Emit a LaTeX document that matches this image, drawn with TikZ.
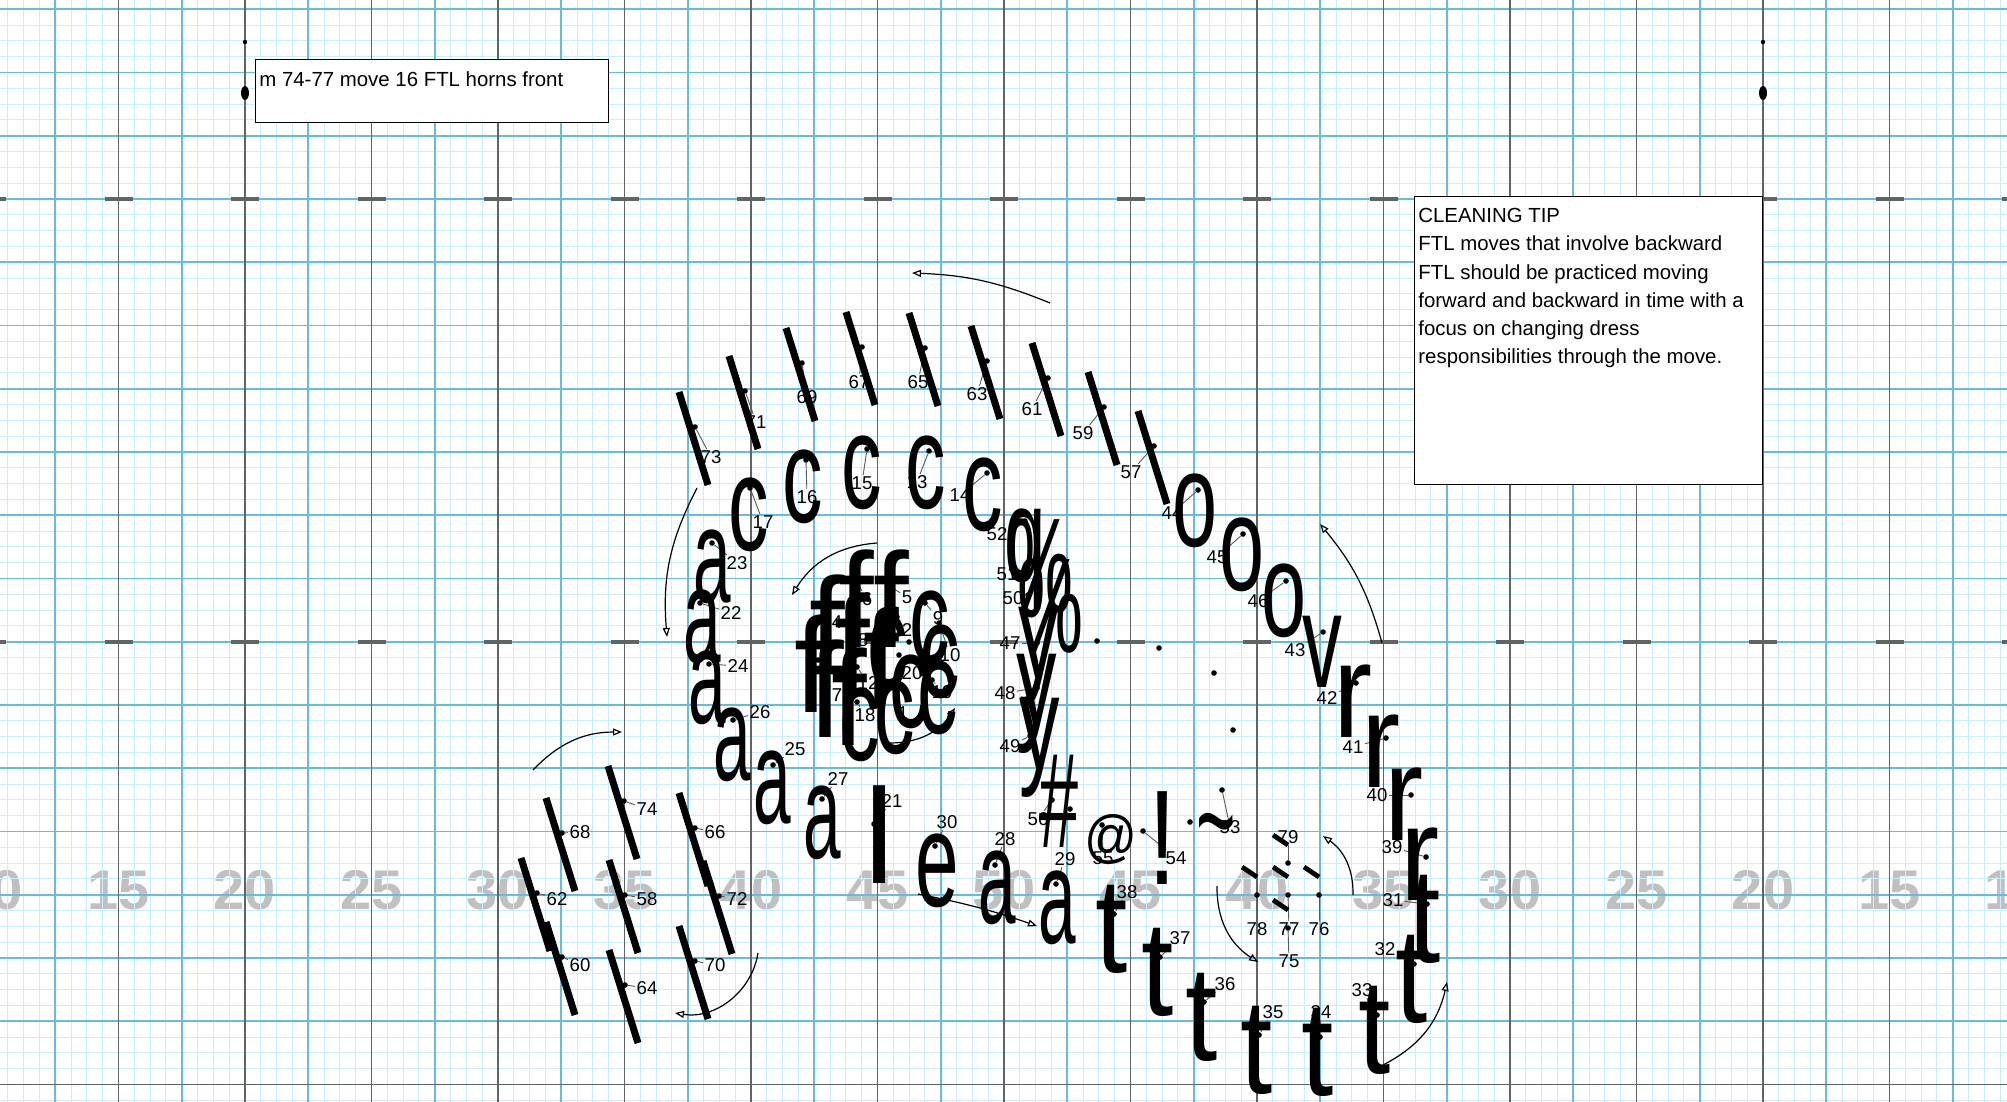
\documentclass[tikz,border=0pt]{standalone}
\usepackage{fontspec}
\setmainfont{Liberation Sans}
\usetikzlibrary{arrows.meta,shapes.geometric,calc}
\definecolor{finecyan}{RGB}{198,241,250}
\definecolor{midcyan}{RGB}{98,190,218}
\definecolor{yardgray}{RGB}{95,100,100}
\definecolor{numgray}{RGB}{192,192,192}
% squeeze a drill symbol sideways
\newcommand\sq[2][0.58]{\scalebox{#1}[1]{#2}}
\tikzset{
 fineline/.style={finecyan,line width=0.5pt},
 midline/.style={midcyan,line width=0.8pt},
 yardline/.style={yardgray,line width=0.8pt},
 hashmark/.style={yardgray,line width=2pt},
 yardnum/.style={numgray,inner sep=0,font=\fontsize{28}{28}\bfseries\selectfont},
 glyph/.style={inner sep=0,anchor=base,font=\fontsize{67.5}{67.5}\selectfont},
 spot/.style={circle,fill=black,inner sep=0,minimum size=2.8pt},
 num/.style={inner sep=0.6pt,font=\fontsize{9.3}{10}\selectfont},
 leader/.style={black!65,line width=0.45pt},
 slash/.style={line width=3.5pt},
 tick/.style={line width=2.4pt},
 move/.style={-{Triangle[open,length=4.5pt,width=3.5pt]},line width=0.6pt},
 notebox/.style={draw,fill=white,line width=0.6pt,inner sep=0,anchor=north west},
 notetext/.style={inner sep=0,align=left,font=\fontsize{10.2}{14.1}\selectfont}
}
% marcher data: id/dot x/dot y/label x/label y
\def\slashrows{%
73/695/427/711/457,71/745/391/756/422,69/802/363/807/397,%
67/862/347/859/382,65/925/348/918/382,63/987/361/977/394,%
61/1048/378/1032/409,59/1104/407/1083/433,57/1154/446/1131/472,%
74/624/801/647/809,68/562/833/580/832,66/695/828/715/832,%
62/537/893/557/899,58/625/895/647/899,72/719/896/737/899,%
60/562/957/580/965,64/625/985/647/988,70/695/961/715/965}
% id/dot x/dot y/label x/label y/symbol/symbol x/baseline/squeeze
\def\letterrows{%
17/750/488/763/522/c/749/550/0.6,16/806/460/807/497/c/803/522/0.6,%
15/867/449/862/483/c/862/508/0.6,13/929/451/917/482/c/926/508/0.6,%
14/987/473/960/495/c/983/530/0.6,52/1025/521/997/534/q/1025/581/0.55,%
23/712/543/737/563/a/712/602/0.5,22/700/603/731/613/a/702/662/0.5,%
24/709/664/738/666/a/707/723/0.5,26/733/720/760/712/a/732/780/0.5,%
25/773/765/795/749/a/772/823/0.5,27/822/799/838/779/a/822/858/0.5,%
21/874/824/892/801/l/879/883/1,30/935/846/947/822/e/937/906/0.58,%
28/995/865/1005/839/a/997/923/0.5,29/1056/884/1065/859/a/1057/943/0.5,%
44/1198/490/1172/513/o/1195/546/0.6,45/1243/534/1217/557/o/1242/590/0.6,%
46/1286/581/1258/601/o/1284/636/0.6,43/1323/632/1295/650/v/1322/687/0.59,%
42/1356/683/1327/698/r/1353/737/0.87,41/1386/738/1353/747/r/1381/787/0.87,%
40/1411/795/1377/795/r/1404/840/0.87,39/1426/857/1392/847/r/1420/900/0.87,%
38/1114/914/1127/892/t/1112/972/0.86,37/1160/957/1180/938/t/1158/1015/0.86,%
36/1204/1002/1225/984/t/1202/1060/0.86,35/1259/1035/1273/1012/t/1257/1093/0.86,%
34/1320/1037/1321/1012/t/1318/1095/0.86,33/1377/1015/1362/990/t/1375/1073/0.86,%
32/1414/964/1385/949/t/1412/1022/0.86,31/1427/904/1393/900/t/1425/962/0.86,%
6/857/583/867/599/f/856/647/0.95,5/878/579/907/597/f/891/647/0.95,%
4/823/604/837/622/f/827/672/0.95,8/856/628/863/640/f/852/690/0.95,%
2/897/617/907/630/f/881/704/0.95,7/826/681/837/695/f/826/737/0.95,%
12/857/667/868/683/f/849/745/0.95,9/925/603/938/618/c/930/663/0.6,%
10/939/623/950/655/c/940/697/0.6,19/932/680/942/692/c/938/733/0.6,%
1/896/702/903/713/c/895/753/0.6,18/857/702/865/715/c/860/760/0.6,%
20/899/655/912/673/c/910/727/0.6,%
51/1025/575/1007/574/\%/1040/612/0.55,50/1028/595/1013/598/\%/1050/652/0.55,%
47/1037/643/1010/643/y/1039/678/0.6,48/1037/688/1005/693/y/1037/725/0.6,%
49/1030/736/1010/746/y/1040/769/0.6,56/1052/800/1038/819/\#/1059/847/0.52,%
54/1143/831/1176/858/!/1163/884/0.75}
\def\tickrows{%
79/1288/863/1288/837,78/1257/895/1257/929,77/1288/895/1289/929,%
76/1319/895/1319/929,75/1288/928/1289/961}

\begin{document}
\begin{tikzpicture}[x=0.5pt,y=-0.5pt]
\useasboundingbox (0,0) rectangle (2007,1102);
\clip (0,0) rectangle (2007,1102);
\fill[white] (0,0) rectangle (2007,1102);
% yard numbers
\foreach \k/\yd [count=\n] in {-8/10,-7/15,-6/20,-5/25,-4/30,-3/35,-2/40,-1/45,0/50,1/45,2/40,3/35,4/30,5/25,6/20,7/15,8/10}
  \node[yardnum] (yd\n) at ({1004+126.5*\k},890) {\yd};
% field grid
\foreach \i in {-64,...,64} \draw[fineline] ({1004+15.8125*\i},0) -- ++(0,1102);
\foreach \j in {-1,...,69} \draw[fineline] (0,{1084.5-15.8125*\j}) -- ++(2007,0);
\foreach \i in {-16,...,16} \draw[midline] ({1004+63.25*\i},0) -- ++(0,1102);
\foreach \j in {0,...,17} \draw[midline] (0,{1084.5-63.25*\j}) -- ++(2007,0);
\foreach \k in {-8,...,8} {
  \draw[yardline] ({1004+126.5*\k},0) -- ++(0,1102);
  \draw[hashmark] ({1004+126.5*\k-14},199.25) -- ++(28,0);
  \draw[hashmark] ({1004+126.5*\k-14},641.75) -- ++(28,0);
}
\draw[yardline] (0,1084.5) -- (2007,1084.5);

% front markers
\node[spot,minimum size=2.2pt] (frontl) at (245,42) {};
\node[ellipse,fill,inner sep=0,minimum width=4pt,minimum height=7pt] (markl) at (245,93) {};
\node[spot,minimum size=2.2pt] (frontr) at (1763,42) {};
\node[ellipse,fill,inner sep=0,minimum width=4pt,minimum height=7pt] (markr) at (1763,93) {};

% notes
\node[notebox,minimum width=176.5pt,minimum height=31.5pt] (cuebox) at (255,59) {};
\node[notetext,anchor=base west] (cue) at (259,87) {m 74-77 move 16 FTL horns front};
\node[notebox,minimum width=174pt,minimum height=144pt] (tipbox) at (1414,196) {};
\node[notetext,anchor=north west] (tip) at (1418,208) {CLEANING TIP\\FTL moves that involve backward\\FTL should be practiced moving\\forward and backward in time with a\\focus on changing dress\\responsibilities through the move.};

% dots, numbers and leaders
\foreach \id/\dx/\dy/\lx/\ly in \slashrows {
  \node[spot] (d\id) at (\dx,\dy) {};
  \node[num] (n\id) at (\lx,\ly) {\id};
  \draw[leader] (d\id) -- (n\id);
}
\foreach \id/\dx/\dy/\lx/\ly/\gl/\gx/\gy/\xs in \letterrows {
  \node[spot] (d\id) at (\dx,\dy) {};
  \node[num] (n\id) at (\lx,\ly) {\id};
  \draw[leader] (d\id) -- (n\id);
}
\foreach \id/\dx/\dy/\lx/\ly in \tickrows {
  \node[spot] (d\id) at (\dx,\dy) {};
  \node[num] (n\id) at (\lx,\ly) {\id};
  \draw[leader] (d\id) -- (n\id);
}
\node[spot] (d53) at (1222,790) {};
\node[num] (n53) at (1230,827) {53};
\draw[leader] (d53) -- (n53);
\node[spot] (d55) at (1102,825) {};
\node[num] (n55) at (1103,858) {55};
\draw[leader] (d55) -- (n55);
\node[spot] (d3) at (909,642) {};
\node[spot] (d11) at (818,660) {};
\foreach \x/\y [count=\n] in {1097/641,1159/648,1214/673,1233/730,1190/822,1070/809,878/673,877/705}
  \node[spot] (p\n) at (\x,\y) {};

% symbols
\foreach \id/\dx/\dy/\lx/\ly in \slashrows
  \draw[slash] ($(d\id)+(-16,-35)$) -- ($(d\id)+(13,58)$);
\foreach \id/\dx/\dy/\lx/\ly in \tickrows
  \draw[tick] ($(d\id)+(-15,-28)$) -- ($(d\id)+(0,-18)$);
\foreach \id/\dx/\dy/\lx/\ly/\gl/\gx/\gy/\xs in \letterrows
  \node[glyph] (g\id) at (\gx,\gy) {\sq[\xs]{\gl}};
\node[glyph] (g3) at (812,712) {\sq[0.95]{f}};
\node[glyph] (g11) at (888,687) {\sq[0.6]{c}};
\node[glyph] (g53) at (1216,866) {\sq[0.5]{\textasciitilde}};
\node[inner sep=0,font=\fontsize{29}{29}\selectfont] (g55) at (1111,839) {\sq[0.9]{@}};

% moves
\coordinate (m1a) at (1050,303);  \coordinate (m1b) at (912,273);
\coordinate (m2a) at (1382,643);  \coordinate (m2b) at (1320,524);
\coordinate (m3a) at (697,488);   \coordinate (m3b) at (667,637);
\coordinate (m4a) at (877,543);   \coordinate (m4b) at (792,595);
\coordinate (m5a) at (890,743);   \coordinate (m5b) at (955,708);
\coordinate (m6a) at (533,770);   \coordinate (m6b) at (622,732);
\coordinate (m7a) at (758,953);   \coordinate (m7b) at (675,1013);
\coordinate (m8a) at (918,894);   \coordinate (m8b) at (1037,926);
\coordinate (m9a) at (1353,895);  \coordinate (m9b) at (1323,836);
\coordinate (m10a) at (1217,886); \coordinate (m10b) at (1258,962);
\coordinate (m11a) at (1383,1065);\coordinate (m11b) at (1447,982);
\draw[move] (m1a) to[bend right=10] (m1b);
\draw[move] (m2a) to[bend right=12] (m2b);
\draw[move] (m3a) to[bend right=16] (m3b);
\draw[move] (m4a) to[bend right=27] (m4b);
\draw[move] (m5a) to[bend right=28] (m5b);
\draw[move] (m6a) to[bend left=23] (m6b);
\draw[move] (m7a) to[bend left=45] (m7b);
\draw[move] (m8a) to[bend left=4] (m8b);
\draw[move] (m9a) to[bend right=28] (m9b);
\draw[move] (m10a) to[bend right=29] (m10b);
\draw[move] (m11a) to[bend right=25] (m11b);
\end{tikzpicture}
\end{document}
